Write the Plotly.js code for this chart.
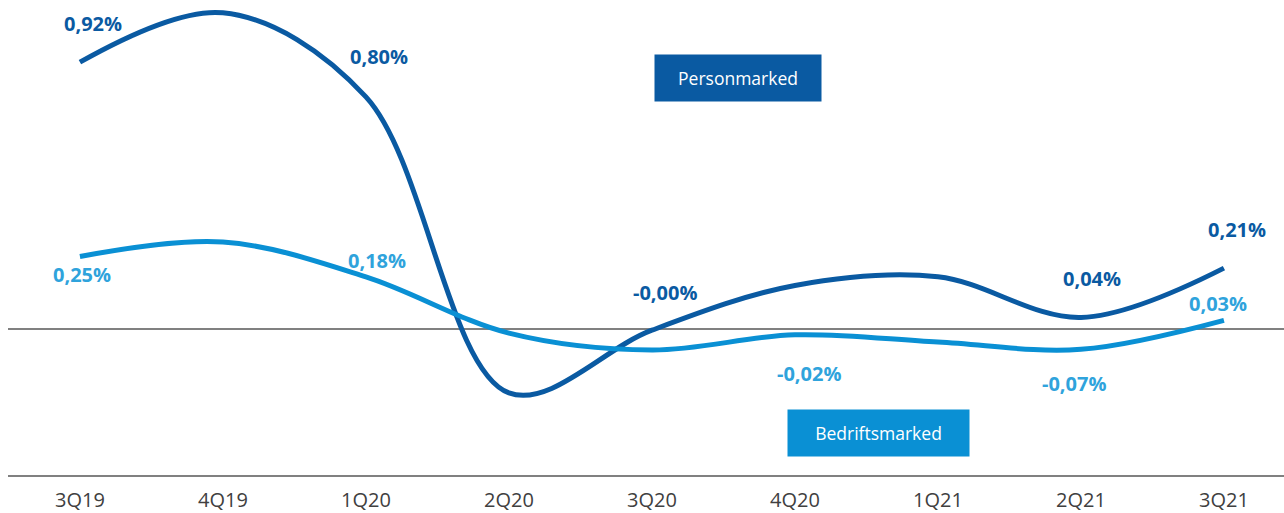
<!DOCTYPE html>
<html>
<head>
<meta charset="utf-8">
<script src="https://cdn.plot.ly/plotly-3.0.1.min.js"></script>
<style>
html,body{margin:0;padding:0;background:#fff;}
#chart{width:1284px;height:513px;}
</style>
</head>
<body>
<div id="chart"></div>
<script>
const categories = ["3Q19","4Q19","1Q20","2Q20","3Q20","4Q20","1Q21","2Q21","3Q21"];
const personmarked = [0.92, 1.09, 0.80, -0.22, -0.004, 0.15, 0.18, 0.04, 0.21];
const bedriftsmarked = [0.25, 0.30, 0.18, -0.014, -0.072, -0.02, -0.045, -0.07, 0.03];
const personLabels = [[0,"0,92%"],[2,"0,80%"],[4,"-0,00%"],[7,"0,04%"],[8,"0,21%"]];
const bedriftLabels = [[0,"0,25%"],[2,"0,18%"],[5,"-0,02%"],[7,"-0,07%"],[8,"0,03%"]];
const seriesNames = ["Personmarked","Bedriftsmarked"];

const DARK = "#0A5AA2";
const LIGHT = "#0A90D4";
const LIGHT_TXT = "#2FA3DC";
const FONT = "Open Sans, sans-serif";

const traces = [
  {x: categories, y: personmarked, name: seriesNames[0], type: "scatter", mode: "lines",
   line: {color: DARK, width: 5, shape: "spline", smoothing: 1}},
  {x: categories, y: bedriftsmarked, name: seriesNames[1], type: "scatter", mode: "lines",
   line: {color: LIGHT, width: 5, shape: "spline", smoothing: 1}}
];

const darkShift = {0:[13,39],2:[13,40],4:[13,38],7:[11,39],8:[13,39]};
const lightShift = {0:[2,-18],2:[11,16],5:[14,-39],7:[-7,-34],8:[-6,17]};

const annotations = [];
personLabels.forEach(([i, t]) => {
  annotations.push({x: categories[i], y: personmarked[i], xref: "x", yref: "y", text: t,
    showarrow: false, xshift: darkShift[i][0], yshift: darkShift[i][1],
    xanchor: "center", yanchor: "middle",
    font: {family: FONT, size: 20, color: DARK, weight: 700}});
});
bedriftLabels.forEach(([i, t]) => {
  annotations.push({x: categories[i], y: bedriftsmarked[i], xref: "x", yref: "y", text: t,
    showarrow: false, xshift: lightShift[i][0], yshift: lightShift[i][1],
    xanchor: "center", yanchor: "middle",
    font: {family: FONT, size: 20, color: LIGHT_TXT, weight: 700}});
});
annotations.push({xref: "paper", yref: "paper", x: 0.572, y: 0.836, text: seriesNames[0],
  xanchor: "center", yanchor: "middle",
  showarrow: false, bgcolor: DARK, width: 166, height: 46, borderpad: 0,
  align: "center", valign: "middle", font: {family: FONT, size: 17.5, color: "#ffffff"}});
annotations.push({xref: "paper", yref: "paper", x: 0.682, y: 0.0884, text: seriesNames[1],
  xanchor: "center", yanchor: "middle",
  showarrow: false, bgcolor: LIGHT, width: 181, height: 46, borderpad: 0,
  align: "center", valign: "middle", font: {family: FONT, size: 17.5, color: "#ffffff"}});

const layout = {
  width: 1284, height: 513,
  margin: {l: 8, r: 0, t: 0, b: 38},
  paper_bgcolor: "#ffffff", plot_bgcolor: "#ffffff",
  showlegend: false,
  font: {family: FONT, color: "#404040"},
  xaxis: {type: "category", range: [-0.503, 8.42], showgrid: false, zeroline: false,
    showline: true, linecolor: "#808080", linewidth: 1.5, ticks: "",
    tickfont: {family: FONT, size: 20, color: "#404040"}, ticklabelstandoff: 6, fixedrange: true},
  yaxis: {range: [-0.503, 1.134], showgrid: false, showticklabels: false, ticks: "",
    zeroline: true, zerolinecolor: "#808080", zerolinewidth: 1.5, showline: false, fixedrange: true},
  annotations: annotations
};

Plotly.newPlot("chart", traces, layout, {displayModeBar: false, staticPlot: true});
</script>
</body>
</html>
